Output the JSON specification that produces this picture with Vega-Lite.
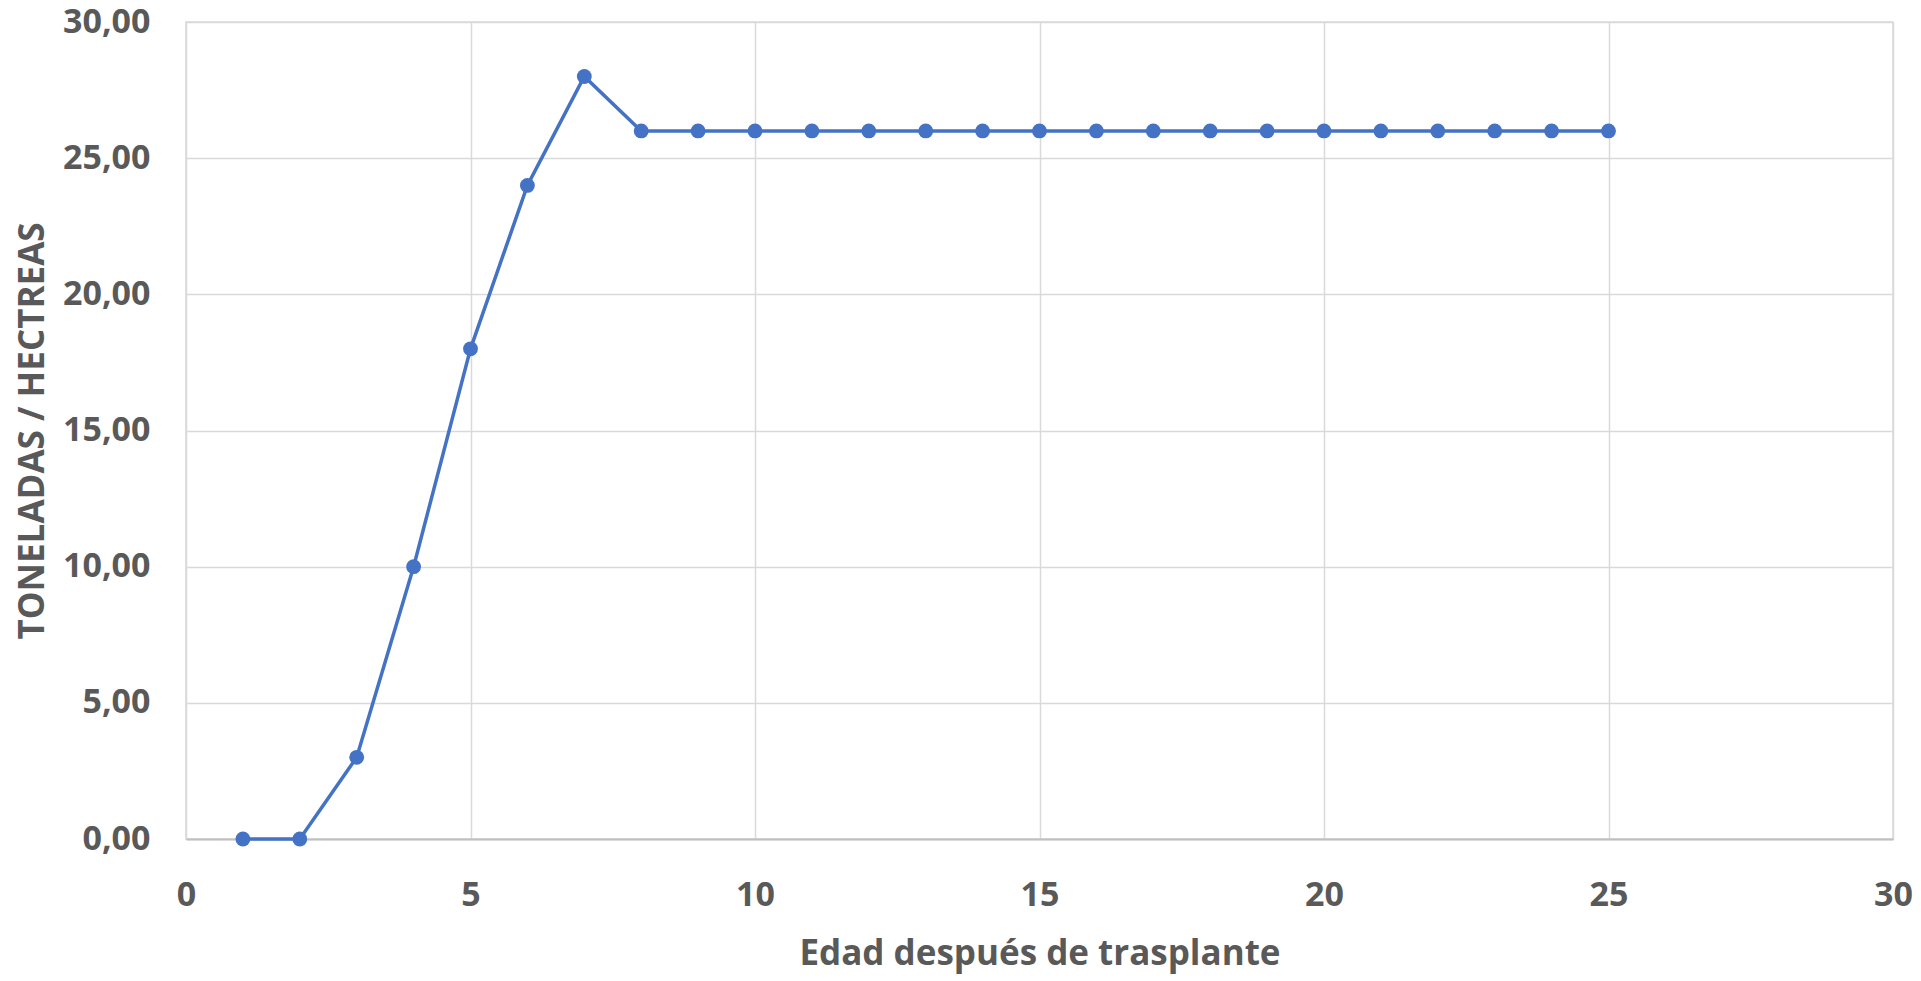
{
  "$schema": "https://vega.github.io/schema/vega-lite/v6.json",
  "width": 1707,
  "height": 817,
  "autosize": {"type": "none"},
  "padding": {"left": 186, "top": 22, "right": 28, "bottom": 142},
  "background": "white",
  "data": {
    "values": [
      {"edad": 1, "t": 0},
      {"edad": 2, "t": 0},
      {"edad": 3, "t": 3},
      {"edad": 4, "t": 10},
      {"edad": 5, "t": 18},
      {"edad": 6, "t": 24},
      {"edad": 7, "t": 28},
      {"edad": 8, "t": 26},
      {"edad": 9, "t": 26},
      {"edad": 10, "t": 26},
      {"edad": 11, "t": 26},
      {"edad": 12, "t": 26},
      {"edad": 13, "t": 26},
      {"edad": 14, "t": 26},
      {"edad": 15, "t": 26},
      {"edad": 16, "t": 26},
      {"edad": 17, "t": 26},
      {"edad": 18, "t": 26},
      {"edad": 19, "t": 26},
      {"edad": 20, "t": 26},
      {"edad": 21, "t": 26},
      {"edad": 22, "t": 26},
      {"edad": 23, "t": 26},
      {"edad": 24, "t": 26},
      {"edad": 25, "t": 26}
    ]
  },
  "mark": {
    "type": "line",
    "color": "#4472C4",
    "strokeWidth": 3.5,
    "point": {"filled": true, "size": 220, "color": "#4472C4", "opacity": 1}
  },
  "encoding": {
    "x": {
      "field": "edad",
      "type": "quantitative",
      "scale": {"domain": [0, 30], "nice": false},
      "axis": {
        "values": [0, 5, 10, 15, 20, 25, 30],
        "title": "Edad después de trasplante",
        "grid": true,
        "gridColor": "#D9D9D9",
        "gridWidth": 1.5,
        "domain": true,
        "domainColor": "#BFBFBF",
        "domainWidth": 2,
        "ticks": false,
        "labelPadding": 39,
        "titlePadding": 24,
        "labelFlush": false
      }
    },
    "y": {
      "field": "t",
      "type": "quantitative",
      "scale": {"domain": [0, 30], "nice": false},
      "axis": {
        "values": [0, 5, 10, 15, 20, 25, 30],
        "labelExpr": "replace(format(datum.value, '.2f'), '.', ',')",
        "title": "TONELADAS / HECTREAS",
        "grid": true,
        "gridColor": "#D9D9D9",
        "gridWidth": 1.5,
        "domain": false,
        "ticks": false,
        "labelPadding": 36,
        "titlePadding": 12,
        "labelFlush": false
      }
    }
  },
  "config": {
    "view": {"stroke": "#D9D9D9", "strokeWidth": 1.5},
    "axis": {
      "labelFont": "Open Sans",
      "labelFontWeight": "bold",
      "labelFontSize": 34,
      "labelColor": "#595959",
      "titleFont": "Open Sans",
      "titleFontWeight": "bold",
      "titleFontSize": 35,
      "titleColor": "#595959"
    }
  }
}
